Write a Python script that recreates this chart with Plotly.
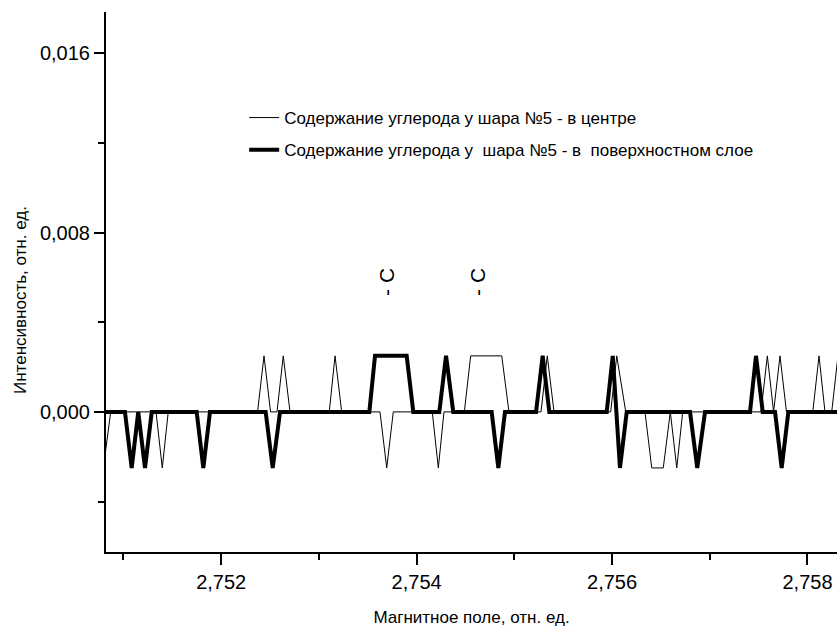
import plotly.graph_objects as go

# ---- data ----
center_x = [2.750794, 2.750869, 2.751333, 2.751397, 2.751458, 2.752372, 2.752438,
            2.752505, 2.752571, 2.752635, 2.752704, 2.753106, 2.753165, 2.753233,
            2.753625, 2.753694, 2.753761, 2.754160, 2.754222, 2.754280, 2.754488,
            2.754553, 2.754871, 2.754945, 2.755273, 2.755337, 2.755406, 2.755986,
            2.756048, 2.756140, 2.756337, 2.756406, 2.756524, 2.756596, 2.756662,
            2.756723, 2.757524, 2.757589, 2.757653, 2.757719, 2.757785, 2.758054,
            2.758118, 2.758179, 2.758248, 2.758312]
center_y = [-0.0025, 0.0, 0.0, -0.0025, 0.0, 0.0, 0.0025,
            0.0, 0.0, 0.0025, 0.0, 0.0, 0.0025, 0.0,
            0.0, -0.0025, 0.0, 0.0, -0.0025, 0.0, 0.0,
            0.0025, 0.0025, 0.0, 0.0, 0.0025, 0.0, 0.0,
            0.0025, 0.0, 0.0, -0.0025, -0.0025, 0.0, -0.0025,
            0.0, 0.0, 0.0025, 0.0, 0.0025, 0.0, 0.0,
            0.0025, 0.0, 0.0, 0.0025]

surface_x = [2.750700, 2.751015, 2.751084, 2.751151, 2.751220, 2.751289, 2.751749,
             2.751817, 2.751885, 2.752455, 2.752527, 2.752602, 2.753516, 2.753574,
             2.753898, 2.753966, 2.754232, 2.754301, 2.754375, 2.754768, 2.754836,
             2.754904, 2.755222, 2.755290, 2.755358, 2.755945, 2.756007, 2.756081,
             2.756150, 2.756798, 2.756872, 2.756951, 2.757412, 2.757473, 2.757542,
             2.757668, 2.757736, 2.757804, 2.758400]
surface_y = [0.0, 0.0, -0.0025, 0.0, -0.0025, 0.0, 0.0,
             -0.0025, 0.0, 0.0, -0.0025, 0.0, 0.0, 0.0025,
             0.0025, 0.0, 0.0, 0.0025, 0.0, 0.0, -0.0025,
             0.0, 0.0, 0.0025, 0.0, 0.0, 0.0025, -0.0025,
             0.0, 0.0, -0.0025, 0.0, 0.0, 0.0025, 0.0,
             0.0, -0.0025, 0.0, 0.0]

name_center = "Содержание углерода у шара №5 - в центре"
name_surface = "Содержание углерода у  шара №5 - в  поверхностном слое"

label_x = [2.753697, 2.754628]
label_y = [0.0058, 0.0058]
label_text = ["- C", "- C"]

x_title = "Магнитное поле, отн. ед."
y_title = "Интенсивность, отн. ед."

x_range = [2.750821, 2.758302]
y_range = [-0.00625, 0.01784]

FONT = "Liberation Sans, Arial, sans-serif"

fig = go.Figure()
fig.add_trace(go.Scatter(x=center_x, y=center_y, mode="lines", name=name_center,
                         legendgroup="a",
                         line=dict(color="black", width=1)))
fig.add_trace(go.Scatter(x=surface_x, y=surface_y, mode="lines", name=name_surface,
                         legendgroup="b",
                         line=dict(color="black", width=4)))

for lx, ly, lt in zip(label_x, label_y, label_text):
    fig.add_annotation(x=lx, y=ly, text=lt, showarrow=False, textangle=-90,
                       font=dict(family=FONT, size=21, color="black"))

# y-axis title (placed slightly below the middle of the axis, as in the original)
fig.add_annotation(xref="paper", yref="paper", x=-0.116, y=0.467,
                   text=y_title, showarrow=False, textangle=-90,
                   xanchor="center", yanchor="middle",
                   font=dict(family=FONT, size=17, color="black"))

fig.update_layout(
    width=837, height=632,
    margin=dict(l=106, r=0, t=12, b=80),
    paper_bgcolor="white", plot_bgcolor="white",
    separators=", ",
    font=dict(family=FONT, color="black"),
    showlegend=True,
    legend=dict(x=0.189, y=0.837, xanchor="left", yanchor="top",
                bgcolor="rgba(0,0,0,0)", tracegroupgap=7,
                font=dict(family=FONT, size=17, color="black")),
)
fig.update_xaxes(
    range=x_range, showgrid=False, zeroline=False,
    showline=True, linewidth=2, linecolor="black",
    ticks="outside", ticklen=11, tickwidth=2, tickcolor="black",
    tick0=2.752, dtick=0.002, tickformat=".3f",
    tickfont=dict(family=FONT, size=20, color="black"),
    minor=dict(ticks="outside", ticklen=6, tickwidth=2, tickcolor="black",
               tick0=2.751, dtick=0.001),
    title=dict(text=x_title, standoff=19,
               font=dict(family=FONT, size=17, color="black")),
)
fig.update_yaxes(
    range=y_range, showgrid=False, zeroline=False,
    showline=True, linewidth=2, linecolor="black",
    ticks="outside", ticklen=10, tickwidth=2, tickcolor="black",
    tick0=0, dtick=0.008, tickformat=".3f",
    tickfont=dict(family=FONT, size=20, color="black"),
    minor=dict(ticks="outside", ticklen=6, tickwidth=2, tickcolor="black",
               tick0=0, dtick=0.004),
)

fig.write_html("out.html",
               config={"displayModeBar": False},
               post_script="document.body.style.margin='0px';"
                           "document.body.style.overflow='hidden';")
